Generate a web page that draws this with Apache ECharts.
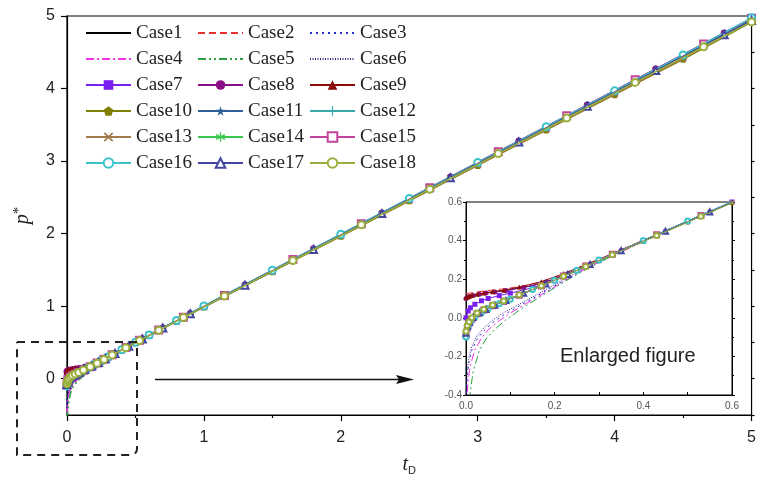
<!DOCTYPE html>
<html lang="en">
<head>
<meta charset="utf-8">
<title>p* vs tD</title>
<script src="https://cdn.jsdelivr.net/npm/echarts@6/dist/echarts.min.js"></script>
<style>
html, body { margin: 0; padding: 0; background: #fff; }
#chart { width: 759px; height: 481px; }
</style>
</head>
<body>
<div id="chart"></div>
<script>
// dimensionless time, three sampling sets (markers of the cases are staggered)
var tA = [0, 0.005, 0.01, 0.02, 0.035, 0.05, 0.075, 0.1, 0.15, 0.2, 0.25, 0.3,
          0.4, 0.5, 0.6, 0.8, 1, 1.5, 2, 2.5, 3, 3.5, 4, 4.5, 5];
var tB = [0, 0.004, 0.008, 0.016, 0.03, 0.045, 0.065, 0.09, 0.13, 0.18, 0.23, 0.28,
          0.35, 0.45, 0.55, 0.7, 0.9, 1.3, 1.8, 2.3, 2.8, 3.3, 3.8, 4.3, 4.8, 5];
var tC = [0, 0.003, 0.007, 0.013, 0.025, 0.04, 0.06, 0.085, 0.12, 0.17, 0.22, 0.27,
          0.33, 0.43, 0.53, 0.67, 0.85, 1.15, 1.65, 2.15, 2.65, 3.15, 3.65, 4.15, 4.65, 5];

// p* for each case
var case1  = [0.110, 0.114, 0.117, 0.121, 0.126, 0.131, 0.138, 0.146, 0.166, 0.201, 0.250, 0.300, 0.400, 0.500, 0.600, 0.797, 0.992, 1.482, 1.972, 2.462, 2.952, 3.442, 3.932, 4.422, 4.940];
var case2  = [0.125, 0.127, 0.128, 0.131, 0.136, 0.140, 0.145, 0.151, 0.165, 0.192, 0.234, 0.283, 0.352, 0.452, 0.551, 0.700, 0.898, 1.293, 1.787, 2.281, 2.775, 3.269, 3.763, 4.257, 4.751, 4.954];
var case3  = [-0.420, -0.290, -0.225, -0.170, -0.110, -0.068, -0.025, 0.015, 0.061, 0.126, 0.192, 0.256, 0.328, 0.428, 0.529, 0.669, 0.847, 1.143, 1.636, 2.130, 2.623, 3.117, 3.610, 4.104, 4.597, 4.944];
var case4  = [-0.470, -0.320, -0.245, -0.165, -0.105, -0.062, -0.015, 0.025, 0.093, 0.160, 0.230, 0.288, 0.394, 0.496, 0.597, 0.795, 0.991, 1.481, 1.971, 2.461, 2.951, 3.441, 3.931, 4.421, 4.935];
var case5  = [-0.560, -0.470, -0.410, -0.280, -0.170, -0.110, -0.060, -0.010, 0.055, 0.127, 0.198, 0.262, 0.345, 0.447, 0.548, 0.699, 0.896, 1.289, 1.781, 2.273, 2.765, 3.257, 3.749, 4.241, 4.733, 4.929];
var case6  = [-0.400, -0.270, -0.205, -0.150, -0.093, -0.053, -0.012, 0.027, 0.070, 0.133, 0.198, 0.260, 0.329, 0.429, 0.529, 0.669, 0.847, 1.144, 1.637, 2.131, 2.624, 3.118, 3.612, 4.106, 4.600, 4.948];
var case7  = [0.000, 0.035, 0.052, 0.070, 0.088, 0.100, 0.115, 0.128, 0.156, 0.192, 0.246, 0.298, 0.399, 0.499, 0.600, 0.798, 0.994, 1.486, 1.977, 2.468, 2.960, 3.452, 3.943, 4.435, 4.952];
var case8  = [0.100, 0.106, 0.110, 0.116, 0.122, 0.128, 0.134, 0.142, 0.157, 0.185, 0.229, 0.279, 0.350, 0.450, 0.550, 0.700, 0.898, 1.295, 1.790, 2.286, 2.782, 3.278, 3.774, 4.270, 4.766, 4.964];
var case9  = [0.105, 0.108, 0.112, 0.116, 0.122, 0.128, 0.135, 0.143, 0.159, 0.187, 0.229, 0.276, 0.331, 0.431, 0.531, 0.670, 0.848, 1.146, 1.640, 2.135, 2.630, 3.125, 3.620, 4.115, 4.609, 4.960];
var case10 = [-0.060, -0.025, -0.008, 0.012, 0.034, 0.052, 0.076, 0.098, 0.145, 0.193, 0.244, 0.295, 0.396, 0.496, 0.596, 0.793, 0.988, 1.476, 1.964, 2.452, 2.940, 3.428, 3.916, 4.404, 4.915];
var case11 = [-0.075, -0.040, -0.020, 0.002, 0.026, 0.044, 0.065, 0.089, 0.127, 0.175, 0.225, 0.276, 0.347, 0.447, 0.547, 0.697, 0.894, 1.288, 1.780, 2.273, 2.765, 3.258, 3.750, 4.243, 4.735, 4.932];
var case12 = [-0.085, -0.050, -0.027, -0.005, 0.022, 0.041, 0.064, 0.086, 0.118, 0.166, 0.216, 0.267, 0.328, 0.428, 0.528, 0.669, 0.847, 1.143, 1.636, 2.130, 2.623, 3.117, 3.610, 4.104, 4.597, 4.944];
var case13 = [-0.050, -0.020, -0.004, 0.015, 0.036, 0.054, 0.078, 0.100, 0.147, 0.195, 0.245, 0.296, 0.397, 0.497, 0.597, 0.794, 0.990, 1.479, 1.968, 2.457, 2.946, 3.435, 3.924, 4.413, 4.925];
var case14 = [-0.065, -0.034, -0.017, 0.004, 0.028, 0.046, 0.066, 0.090, 0.128, 0.176, 0.225, 0.276, 0.347, 0.447, 0.547, 0.698, 0.895, 1.289, 1.781, 2.274, 2.766, 3.259, 3.751, 4.244, 4.736, 4.934];
var case15 = [-0.090, -0.053, -0.030, -0.007, 0.021, 0.040, 0.063, 0.085, 0.117, 0.165, 0.216, 0.268, 0.329, 0.430, 0.530, 0.670, 0.849, 1.147, 1.642, 2.138, 2.633, 3.129, 3.624, 4.120, 4.615, 4.969];
var case16 = [-0.100, -0.045, -0.020, 0.005, 0.028, 0.047, 0.073, 0.096, 0.146, 0.195, 0.247, 0.299, 0.401, 0.502, 0.603, 0.803, 1.002, 1.497, 1.991, 2.485, 2.980, 3.474, 3.968, 4.462, 4.975];
var case17 = [-0.080, -0.043, -0.022, 0.001, 0.025, 0.043, 0.065, 0.089, 0.127, 0.175, 0.225, 0.276, 0.348, 0.448, 0.548, 0.698, 0.896, 1.290, 1.783, 2.276, 2.769, 3.262, 3.755, 4.248, 4.741, 4.939];
var case18 = [-0.070, -0.040, -0.020, 0.000, 0.025, 0.044, 0.066, 0.087, 0.119, 0.166, 0.215, 0.266, 0.327, 0.426, 0.526, 0.667, 0.844, 1.139, 1.630, 2.121, 2.612, 3.103, 3.594, 4.085, 4.576, 4.919];

var caseNames = ['Case1', 'Case2', 'Case3', 'Case4', 'Case5', 'Case6', 'Case7', 'Case8', 'Case9',
                 'Case10', 'Case11', 'Case12', 'Case13', 'Case14', 'Case15', 'Case16', 'Case17', 'Case18'];
var caseValues = [case1, case2, case3, case4, case5, case6, case7, case8, case9,
                  case10, case11, case12, case13, case14, case15, case16, case17, case18];
var caseTimes = [tA, tB, tC];   // case i uses caseTimes[i % 3]

// tick values
var mainYTicks = [0, 1, 2, 3, 4, 5];

// line / marker styles
var colors = ['#000000', '#e8302e', '#2a2ad6', '#f032e6', '#2e9e44', '#2b2b8c',
              '#7a1ff0', '#8a0f86', '#8b0a0a', '#808000', '#2f5f9a', '#39a9a9',
              '#a37a4c', '#3cc84f', '#c2449a', '#38c4cc', '#4146a0', '#9aae3c'];
var dashes = ['solid', [7, 4], [2, 4], [8, 3, 2, 3], [8, 3, 2, 3, 2, 3], [1, 1.5]];

var PENTAGON = 'path://M0,-1 L0.951,-0.309 L0.588,0.809 L-0.588,0.809 L-0.951,-0.309 Z';
var STAR = 'path://M0,-1 L0.225,-0.309 L0.951,-0.309 L0.363,0.118 L0.588,0.809 L0,0.382 L-0.588,0.809 L-0.363,0.118 L-0.951,-0.309 L-0.225,-0.309 Z';
var PLUS = 'path://M-1,-0.12 L1,-0.12 L1,0.12 L-1,0.12 Z M0.12,-1 L0.12,1 L-0.12,1 L-0.12,-1 Z';
var CROSS = 'path://M-0.86,-1.14 L1.14,0.86 L0.86,1.14 L-1.14,-0.86 Z M-1.14,0.86 L0.86,-1.14 L1.14,-0.86 L-0.86,1.14 Z';
var ASTER = 'path://M0.13,-1 L0.13,1 L-0.13,1 L-0.13,-1 Z M-0.801,-0.613 L0.931,0.387 L0.801,0.613 L-0.931,-0.387 Z M-0.931,0.387 L0.801,-0.613 L0.931,-0.387 L-0.801,0.613 Z';
var symbols = ['none', 'none', 'none', 'none', 'none', 'none',
               'rect', 'circle', 'triangle', PENTAGON, STAR, PLUS,
               CROSS, ASTER, 'emptyRect', 'emptyCircle', 'emptyTriangle', 'emptyCircle'];

function makeSeries(i, inset) {
    var times = caseTimes[i % 3];
    var pts = times.map(function (t, k) { return [t, caseValues[i][k]]; });
    return {
        name: caseNames[i],
        type: 'line',
        xAxisIndex: inset ? 1 : 0,
        yAxisIndex: inset ? 2 : 0,
        data: pts,
        color: colors[i],
        clip: true,
        symbol: symbols[i],
        showSymbol: symbols[i] !== 'none',
        symbolSize: inset ? 5 : 7,
        lineStyle: { color: colors[i], width: inset ? 1 : 1.5, type: dashes[i] || 'solid' },
        itemStyle: { color: colors[i] },
        emphasis: { disabled: true },
        z: 2 + i * 0.01
    };
}

var series = [];
for (var i = 0; i < caseNames.length; i++) series.push(makeSeries(i, false));
for (var j = 0; j < caseNames.length; j++) series.push(makeSeries(j, true));

function legendCol(idx, left) {
    var names = [];
    for (var k = idx; k < caseNames.length; k += 3) {
        var item = { name: caseNames[k] };
        if (symbols[k] === 'none') item.itemStyle = { opacity: 0 };
        names.push(item);
    }
    return {
        orient: 'vertical',
        left: left,
        top: 23,
        padding: 0,
        itemWidth: 45,
        itemHeight: 12,
        itemGap: 6,
        selectedMode: false,
        data: names,
        textStyle: { fontFamily: 'Liberation Serif', fontSize: 19, color: '#222', lineHeight: 20 }
    };
}

var sans = 'Liberation Sans';

var option = {
    animation: false,
    backgroundColor: '#fff',
    legend: [legendCol(0, 85), legendCol(1, 197), legendCol(2, 309)],
    grid: [
        { left: 67, right: 3, top: 16, bottom: 61, show: true, borderColor: '#000', borderWidth: 1.2, backgroundColor: 'transparent' },
        { left: 466, top: 202, width: 266, height: 193, show: true, borderColor: '#000', borderWidth: 1, backgroundColor: '#fff' }
    ],
    xAxis: [
        {
            gridIndex: 0, type: 'value', min: 0, max: 5, interval: 1,
            axisLine: { onZero: false, lineStyle: { color: '#000', width: 1.2 } },
            axisTick: { length: 6, lineStyle: { color: '#000', width: 1.2 } },
            minorTick: { show: true, splitNumber: 2, length: 3, lineStyle: { color: '#000', width: 1.2 } },
            splitLine: { show: false },
            axisLabel: { fontFamily: sans, fontSize: 16, color: '#222', margin: 15 },
            name: '{i|t}{s|D}',
            nameLocation: 'middle',
            nameGap: 38,
            nameTextStyle: {
                rich: {
                    i: { fontFamily: 'Liberation Serif', fontStyle: 'italic', fontSize: 20, color: '#222' },
                    s: { fontFamily: sans, fontSize: 11, color: '#222', padding: [12, 0, 0, 0] }
                }
            }
        },
        {
            gridIndex: 1, type: 'value', min: 0, max: 0.6, interval: 0.2,
            axisLine: { onZero: false, lineStyle: { color: '#000', width: 1 } },
            axisTick: { length: 3, inside: true, lineStyle: { color: '#000' } },
            minorTick: { show: true, splitNumber: 2, length: 3, lineStyle: { color: '#000' } },
            splitLine: { show: false },
            axisLabel: {
                fontFamily: sans, fontSize: 10, color: '#555', margin: 6,
                formatter: function (v) { return v.toFixed(1); }
            }
        }
    ],
    yAxis: [
        {
            gridIndex: 0, type: 'value', min: -0.5, max: 5,
            axisLine: { show: true, onZero: false, lineStyle: { color: '#000', width: 1.2 } },
            axisTick: { length: 6, customValues: mainYTicks, lineStyle: { color: '#000', width: 1.2 } },
            axisLabel: { customValues: mainYTicks, fontFamily: sans, fontSize: 16, color: '#222', margin: 12 },
            splitLine: { show: false },
            name: '{i|p}{s|*}',
            nameLocation: 'middle',
            nameGap: 34,
            nameTextStyle: {
                rich: {
                    i: { fontFamily: 'Liberation Serif', fontStyle: 'italic', fontSize: 20, color: '#222' },
                    s: { fontFamily: 'Liberation Serif', fontSize: 15, color: '#222', padding: [0, 0, 6, 0] }
                }
            }
        },
        {
            gridIndex: 0, type: 'value', min: -0.5, max: 5, interval: 0.5,
            axisLine: { show: false, onZero: false },
            axisTick: { length: 3, lineStyle: { color: '#000', width: 1.2 } },
            axisLabel: { show: false },
            splitLine: { show: false }
        },
        {
            gridIndex: 1, type: 'value', min: -0.4, max: 0.6, interval: 0.2,
            axisLine: { show: true, onZero: false, lineStyle: { color: '#000', width: 1 } },
            axisTick: { length: 3, lineStyle: { color: '#000' } },
            minorTick: { show: true, splitNumber: 2, length: 2, lineStyle: { color: '#000' } },
            splitLine: { show: false },
            axisLabel: {
                fontFamily: sans, fontSize: 10, color: '#555', margin: 4,
                formatter: function (v) { return v.toFixed(1); }
            }
        },
        {
            gridIndex: 1, type: 'value', position: 'right', min: -0.4, max: 0.6, interval: 0.2,
            axisLine: { show: true, onZero: false, lineStyle: { color: '#000', width: 1 } },
            axisTick: { length: 3, lineStyle: { color: '#000' } },
            minorTick: { show: true, splitNumber: 2, length: 2, lineStyle: { color: '#000' } },
            splitLine: { show: false },
            axisLabel: { show: false }
        }
    ],
    graphic: [
        {
            type: 'rect', z: 100,
            shape: { x: 17, y: 342, width: 120, height: 113, r: [0, 0, 6, 0] },
            style: { fill: 'none', stroke: '#222', lineWidth: 2, lineDash: [8, 6] }
        },
        {
            type: 'line', z: 100,
            shape: { x1: 155, y1: 379.5, x2: 400, y2: 379.5 },
            style: { stroke: '#111', lineWidth: 1.5 }
        },
        {
            type: 'polygon', z: 100,
            shape: { points: [[414, 379.5], [396, 375], [399, 379.5], [396, 384]] },
            style: { fill: '#111' }
        },
        {
            type: 'text', z: 100, left: 560, top: 346,
            style: { text: 'Enlarged figure', fontFamily: sans, fontSize: 20, fill: '#222' }
        }
    ],
    series: series
};

var chart = echarts.init(document.getElementById('chart'));
chart.setOption(option);
</script>
</body>
</html>
